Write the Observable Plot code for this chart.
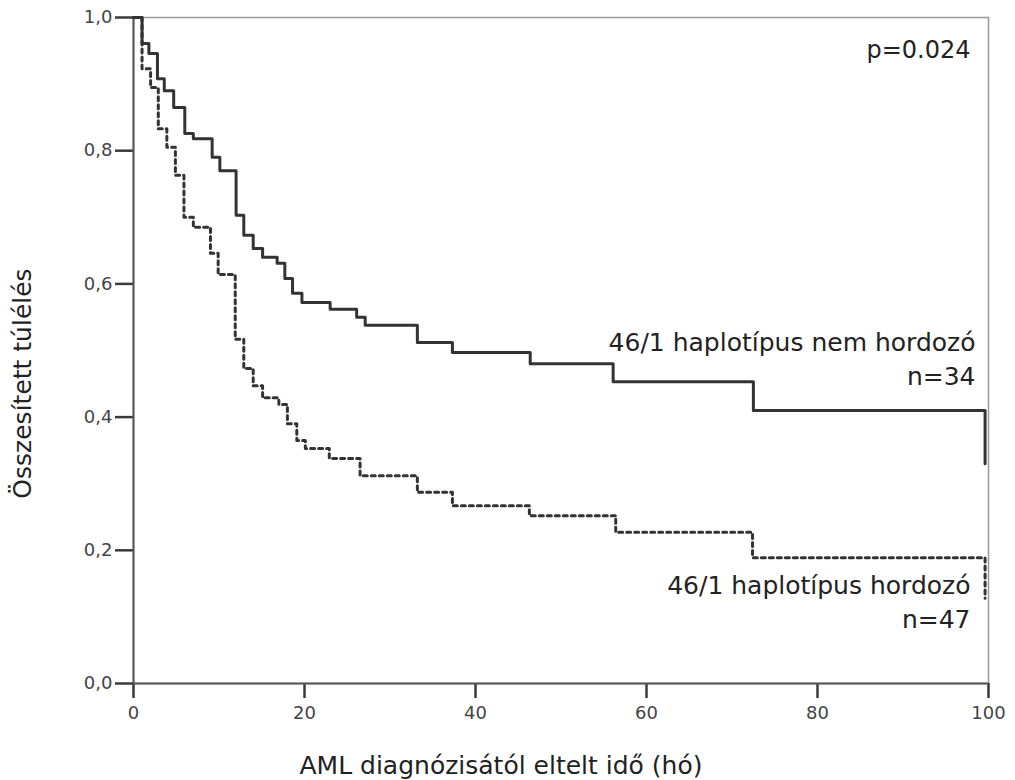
<!DOCTYPE html>
<html>
<head>
<meta charset="utf-8">
<script src="https://cdn.jsdelivr.net/npm/d3@7"></script>
<script src="https://cdn.jsdelivr.net/npm/@observablehq/plot@0.6"></script>
<style>
  html, body { margin: 0; padding: 0; background: #fff; }
  #chart svg { display: block; }
</style>
</head>
<body>
<div id="chart"></div>
<script>
// Kaplan–Meier steps
const solidTime = [0, 1.0, 1.8, 2.8, 3.6, 4.7, 6.0, 7.0, 9.2, 10.1, 12.0, 12.9, 14.0, 15.1, 16.8, 17.7, 18.6, 19.7, 23.0, 26.1, 27.1, 33.2, 37.3, 46.4, 56.1, 72.5, 99.6];
const solidSurv = [1.0, 0.961, 0.946, 0.908, 0.890, 0.865, 0.826, 0.818, 0.790, 0.770, 0.703, 0.673, 0.653, 0.640, 0.631, 0.608, 0.586, 0.572, 0.562, 0.550, 0.538, 0.512, 0.497, 0.480, 0.453, 0.410, 0.330];

const dashTime = [0, 1.0, 2.0, 2.9, 3.9, 4.9, 5.9, 7.0, 9.0, 9.9, 11.9, 12.9, 14.0, 15.1, 17.0, 18.0, 19.1, 20.1, 22.9, 26.5, 33.2, 37.3, 46.3, 56.4, 72.4, 99.6];
const dashSurv = [1.0, 0.923, 0.895, 0.833, 0.805, 0.763, 0.700, 0.685, 0.646, 0.614, 0.517, 0.473, 0.447, 0.429, 0.419, 0.390, 0.365, 0.353, 0.338, 0.312, 0.287, 0.267, 0.252, 0.227, 0.189, 0.128];

const xTicks = [0, 20, 40, 60, 80, 100];
const yTicks = [0, 0.2, 0.4, 0.6, 0.8, 1.0];

const xLabel = "AML diagnózisától eltelt idő (hó)";
const yLabel = "Összesített túlélés";
const pText = "p=0.024";
const solidName = "46/1 haplotípus nem hordozó";
const solidN = "n=34";
const dashName = "46/1 haplotípus hordozó";
const dashN = "n=47";

const solid = solidTime.map((t, i) => ({t, s: solidSurv[i]}));
const dashed = dashTime.map((t, i) => ({t, s: dashSurv[i]}));

const ink = "#333";
const axisInk = "#3a3a3a";
const annFont = 25;
const tickFont = 18;
const font = "'DejaVu Sans', sans-serif";

const chart = Plot.plot({
  width: 1015,
  height: 780,
  marginLeft: 133,
  marginRight: 27,
  marginTop: 17,
  marginBottom: 97,
  style: {color: "#444", background: "#fff"},
  x: {domain: [0, 100]},
  y: {domain: [0, 1]},
  marks: [
    Plot.frame({stroke: "#999", strokeWidth: 1.5}),
    Plot.axisX({ticks: xTicks, tickSize: 15, tickPadding: 8, label: null, fontSize: tickFont, fontFamily: font,
      stroke: axisInk, strokeWidth: 2.5}),
    Plot.axisY({ticks: yTicks, tickSize: 18, tickPadding: 3, label: null, fontSize: tickFont, fontFamily: font,
      stroke: axisInk, strokeWidth: 2.5, tickFormat: d => d.toFixed(1).replace(".", ",")}),
    Plot.ruleX([0], {stroke: "#555", strokeWidth: 2}),
    Plot.ruleY([0], {stroke: "#555", strokeWidth: 2}),
    Plot.line(dashed, {x: "t", y: "s", curve: "step-after", stroke: ink, strokeWidth: 3, strokeDasharray: "4,4"}),
    Plot.line(solid, {x: "t", y: "s", curve: "step-after", stroke: ink, strokeWidth: 3}),
    Plot.text([pText], {frameAnchor: "top-right", dx: -18, dy: 33, lineAnchor: "middle", textAnchor: "end", fontSize: 24, fontFamily: font, fill: "#222"}),
    Plot.text([solidName], {frameAnchor: "top-right", dx: -13, dy: 325, lineAnchor: "middle", textAnchor: "end", fontSize: annFont, fontFamily: font, fill: "#222"}),
    Plot.text([solidN], {frameAnchor: "top-right", dx: -13, dy: 359, lineAnchor: "middle", textAnchor: "end", fontSize: annFont, fontFamily: font, fill: "#222"}),
    Plot.text([dashName], {frameAnchor: "top-right", dx: -18, dy: 568, lineAnchor: "middle", textAnchor: "end", fontSize: annFont, fontFamily: font, fill: "#222"}),
    Plot.text([dashN], {frameAnchor: "top-right", dx: -18, dy: 602, lineAnchor: "middle", textAnchor: "end", fontSize: annFont, fontFamily: font, fill: "#222"}),
    Plot.text([xLabel], {frameAnchor: "bottom", dx: -60, dy: 82, lineAnchor: "middle", textAnchor: "middle", fontSize: annFont, fontFamily: font, fill: "#222"}),
    Plot.text([yLabel], {frameAnchor: "left", dx: -111, dy: 33, rotate: -90, lineAnchor: "middle", textAnchor: "middle", fontSize: annFont, fontFamily: font, fill: "#222"})
  ]
});
document.getElementById("chart").appendChild(chart);
</script>
</body>
</html>
